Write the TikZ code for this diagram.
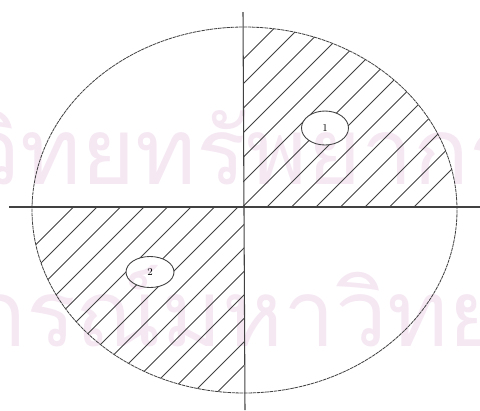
\documentclass[tikz,border=0pt]{standalone}
\usepackage{fontspec}
\usepackage{tikz}
\usetikzlibrary{shapes.geometric}
\newfontfamily\thaifont[Script=Thai]{Loma}
\definecolor{inkgray}{RGB}{65,65,65}
\definecolor{markpink}{RGB}{245,232,243}

\begin{document}
\begin{tikzpicture}[x=0.03cm, y=-0.03cm,
    axisline/.style={draw=inkgray, line width=0.9pt},
    rim/.style={draw=inkgray, line width=0.7pt, dash pattern=on 3pt off 0.6pt},
    hatch/.style={draw=inkgray, line width=0.75pt},
    tag/.style={draw=inkgray, ellipse, line width=0.75pt, inner sep=0pt, font=\small},
    watermark/.style={text=markpink, font=\thaifont\fontsize{79}{79}\selectfont, inner sep=0pt}
]
\useasboundingbox (0,0) rectangle (480,410);

% faint scan watermark
\begin{scope}
  \clip (0,0) rectangle (480,410);
  \node[watermark, anchor=base west] (markA) at (-32,184) {\llap{ศูนย์}วิทยทรัพยากร};
  \node[watermark, anchor=base west] (markB) at (26,346) {\llap{จุฬาลงก}รณ์มหาวิทยาลัย};
\end{scope}

% outline and axes
\coordinate (c) at (244.5,210);
\draw[rim] (c) ellipse [x radius=212.5, y radius=183];
\coordinate (left) at (9,207);
\coordinate (right) at (480,207);
\coordinate (top) at (243,12);
\coordinate (bottom) at (245,410);
\draw[axisline] (left) -- (right);
\draw[axisline] (top) -- (bottom);

% quadrant tags
\node[tag, minimum width=1.41cm, minimum height=1.02cm] (one) at (325,128) {1};
\node[tag, minimum width=1.44cm, minimum height=0.93cm] (two) at (150,272) {2};

% hatching, upper right
\begin{scope}
  \clip (243,0) rectangle (480,207);
  \clip (c) ellipse [x radius=212.5, y radius=183];
  \begin{scope}[even odd rule]
  \clip (0,0) rectangle (480,410)
    (one.center) ellipse [x radius=0.705cm, y radius=0.51cm];
  \foreach \k in {-7,...,6}{
    \pgfmathsetmacro{\cc}{474+24.5*\k}
    \draw[hatch] (\cc,0) -- (\cc-410,410);
  }
  \end{scope}
\end{scope}

% hatching, lower left
\begin{scope}
  \clip (0,207) rectangle (244,410);
  \clip (c) ellipse [x radius=212.5, y radius=183];
  \begin{scope}[even odd rule]
  \clip (0,0) rectangle (480,410)
    (two.center) ellipse [x radius=0.72cm, y radius=0.465cm];
  \foreach \k in {-1,...,13}{
    \pgfmathsetmacro{\cc}{304+23.5*\k}
    \draw[hatch] (\cc,0) -- (\cc-410,410);
  }
  \end{scope}
\end{scope}
\end{tikzpicture}
\end{document}
